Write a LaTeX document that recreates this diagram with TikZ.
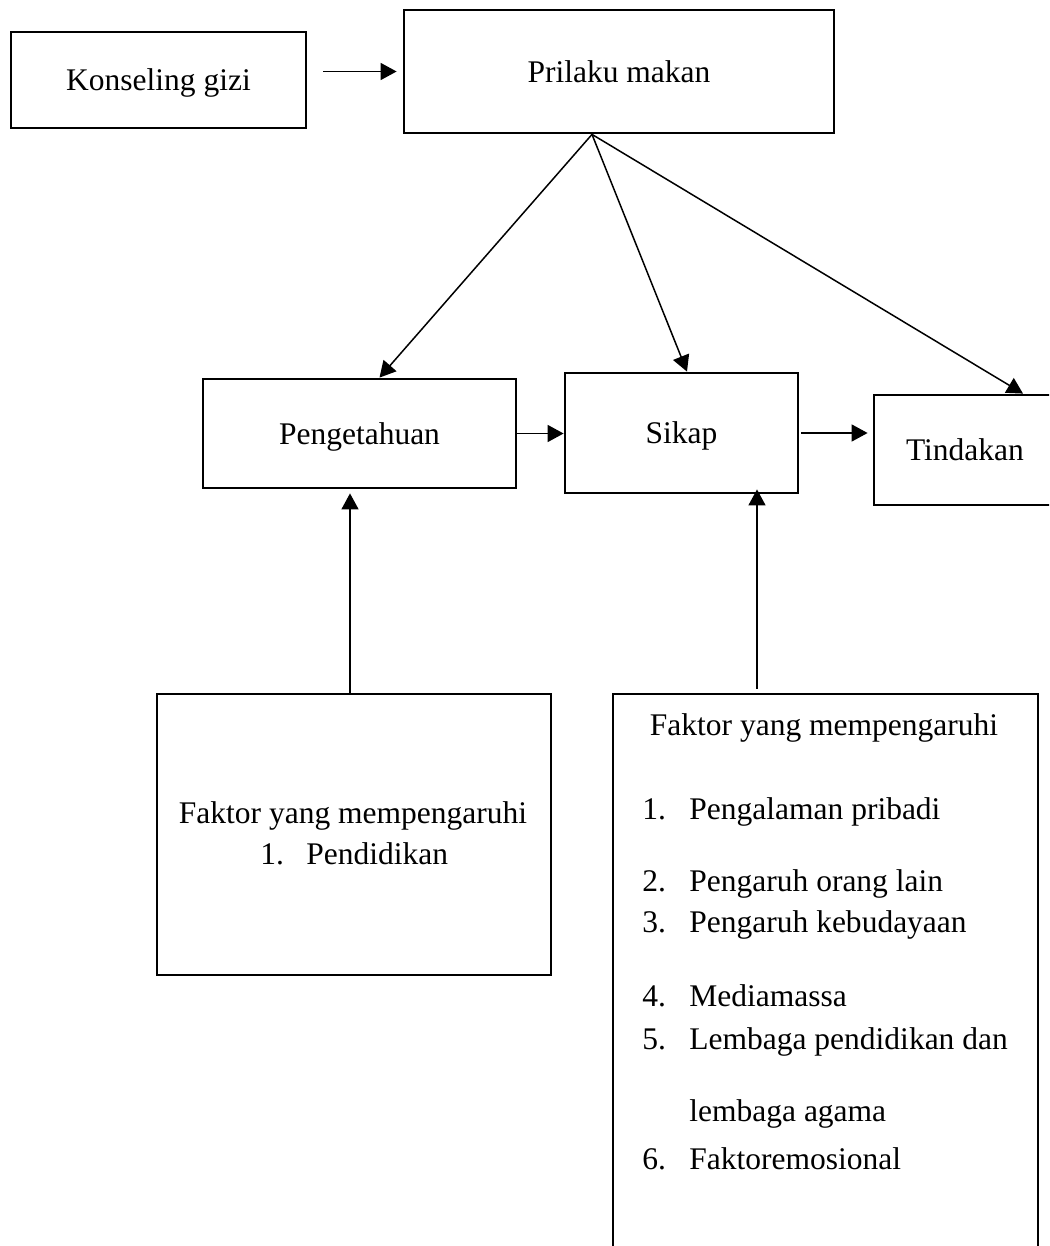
\documentclass[tikz,border=0pt]{standalone}
\usepackage{fontspec}
\setmainfont{Liberation Serif}
\usetikzlibrary{arrows.meta,calc}
\tikzset{
  box/.style={draw, line width=1.4pt, inner sep=0pt, text depth=0pt, font=\fontsize{15.75}{19}\selectfont},
  arr/.style={line width=0.75pt, -{Triangle[length=8pt,width=8.5pt]}},
  txt/.style={inner sep=0pt, font=\fontsize{15.75}{19}\selectfont},
}
\begin{document}
\begin{tikzpicture}[x=0.5pt,y=-0.5pt]
\clip (0,0) rectangle (1049,1246);
\fill[white] (0,0) rectangle (1049,1246);

\node[box, minimum width=147.5pt, minimum height=48pt] (konseling) at (158.5,80) {Konseling gizi};
\node[box, minimum width=215pt, minimum height=61.5pt] (prilaku) at (619,71.5) {Prilaku makan};
\node[box, minimum width=156.5pt, minimum height=54.5pt] (pengetahuan) at (359.5,433.5) {Pengetahuan};
\node[box, minimum width=116.5pt, minimum height=60pt] (sikap) at (681.5,433) {Sikap};
\node[box, minimum width=91pt, minimum height=55pt] (tindakan) at (965,450) {Tindakan};
\node[box, minimum width=197pt, minimum height=140.5pt] (lf) at (354,834.5) {};
\node[box, minimum width=212.5pt, minimum height=303pt] (rf) at (825.5,997) {};

% left factor texts
\node[txt, anchor=base] (lfh) at (353,823) {Faktor yang mempengaruhi};
\node[txt, anchor=base west] (lf1n) at (260,864) {1.};
\node[txt, anchor=base west] (lf1) at (306,864) {Pendidikan};

% right factor texts
\node[txt, anchor=base] (rfh) at (824,735) {Faktor yang mempengaruhi};
\node[txt, anchor=base west] (r1n) at (642,819) {1.};
\node[txt, anchor=base west] (r1) at (689,819) {Pengalaman pribadi};
\node[txt, anchor=base west] (r2n) at (642,891) {2.};
\node[txt, anchor=base west] (r2) at (689,891) {Pengaruh orang lain};
\node[txt, anchor=base west] (r3n) at (642,932) {3.};
\node[txt, anchor=base west] (r3) at (689,932) {Pengaruh kebudayaan};
\node[txt, anchor=base west] (r4n) at (642,1006) {4.};
\node[txt, anchor=base west] (r4) at (689,1006) {Mediamassa};
\node[txt, anchor=base west] (r5n) at (642,1049) {5.};
\node[txt, anchor=base west] (r5) at (689,1049) {Lembaga pendidikan dan};
\node[txt, anchor=base west] (r5b) at (689,1121) {lembaga agama};
\node[txt, anchor=base west] (r6n) at (642,1169) {6.};
\node[txt, anchor=base west] (r6) at (689,1169) {Faktoremosional};

% connectors
\draw[arr, shorten <=8pt, shorten >=3pt] (konseling.east |- prilaku.west) -- (prilaku.west);
\coordinate (po) at ([xshift=-13.5pt]prilaku.south);
\draw[arr] (po) -- ([xshift=10pt]pengetahuan.north);
\draw[arr] (po) -- ([xshift=2.75pt]sikap.north);
\draw[arr] (po) -- ([xshift=29pt]tindakan.north);
\draw[arr] (pengetahuan.east) -- (pengetahuan.east -| sikap.west);
\draw[arr, shorten <=1pt, shorten >=2.5pt] (sikap.east) -- (sikap.east -| tindakan.west);
\draw[arr, shorten >=2pt] ([xshift=-2pt]lf.north) -- ([xshift=-2pt]lf.north |- pengetahuan.south);
\draw[arr, shorten <=2pt, shorten >=-2.5pt] ([xshift=-34.25pt]rf.north) -- ([xshift=-34.25pt]rf.north |- sikap.south);
\end{tikzpicture}
\end{document}
